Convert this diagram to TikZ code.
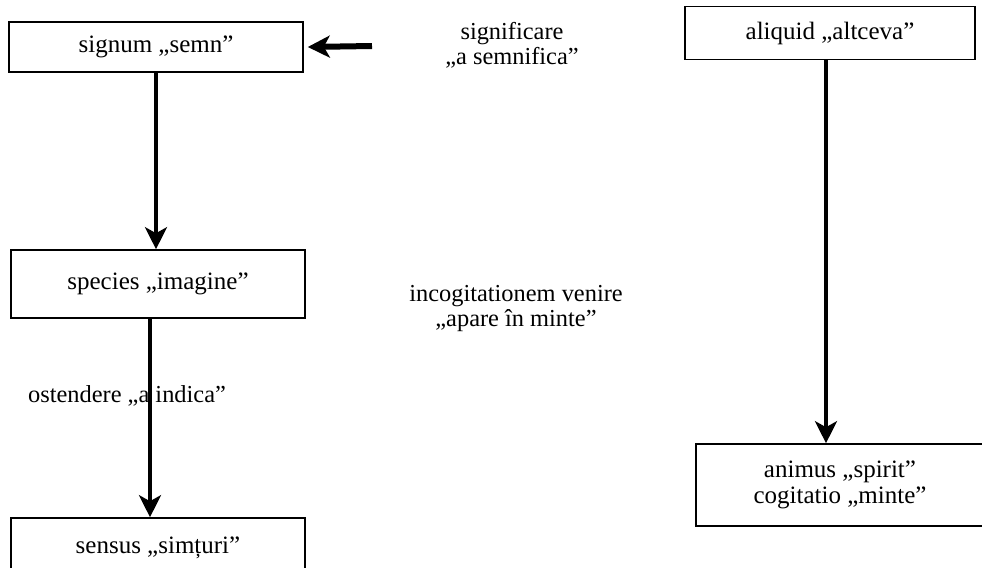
\documentclass[tikz,border=0pt]{standalone}
\usepackage{fontspec}
\setmainfont{Liberation Serif}
\usetikzlibrary{arrows.meta}

\begin{document}
\begin{tikzpicture}[x=0.5pt,y=-0.5pt,
  term/.style={draw, line width=0.8pt, minimum width=147pt, minimum height=25pt,
    inner sep=2pt, align=center, font=\fontsize{12.5}{13}\selectfont},
  gloss/.style={align=center, font=\fontsize{12.2}{12.5}\selectfont},
  link/.style={-{Stealth[length=11pt,width=11pt,inset=3pt]}, line width=1.9pt}]
  \useasboundingbox (0,0) rectangle (982,568);
  \clip (0,0) rectangle (982,568);
  \node[term] (signum) at (156,47) {signum „semn”};
  \node[term, minimum height=34pt] (species) at (158,284) {species „imagine”};
  \node[term, minimum height=30pt] (sensus) at (158,548) {sensus „simțuri”};
  \node[term, minimum width=145pt, minimum height=26.5pt] (aliquid) at (830,33) {aliquid „altceva”};
  \node[term, minimum width=144pt, minimum height=41pt] (animus) at (840,485) {animus „spirit”\\cogitatio „minte”};
  \node[gloss] (signif) at (512,45) {significare\\„a semnifica”};
  \node[gloss] (incog) at (516,309) {incogitationem venire\\„apare în minte”};
  \node[gloss] (osten) at (127,396) {ostendere „a indica”};
  \coordinate (tail) at (372,46);
  \draw[link] (signum.south) -- (signum.south |- species.north);
  \draw[link] ([xshift=-4pt]species.south) -- ([xshift=-4pt]sensus.north);
  \draw[link] ([xshift=-2pt]aliquid.south) -- ([xshift=-2pt]aliquid.south |- animus.north);
  \draw[link, line width=3pt] (tail) -- ([xshift=2pt]signum.east);
\end{tikzpicture}
\end{document}
